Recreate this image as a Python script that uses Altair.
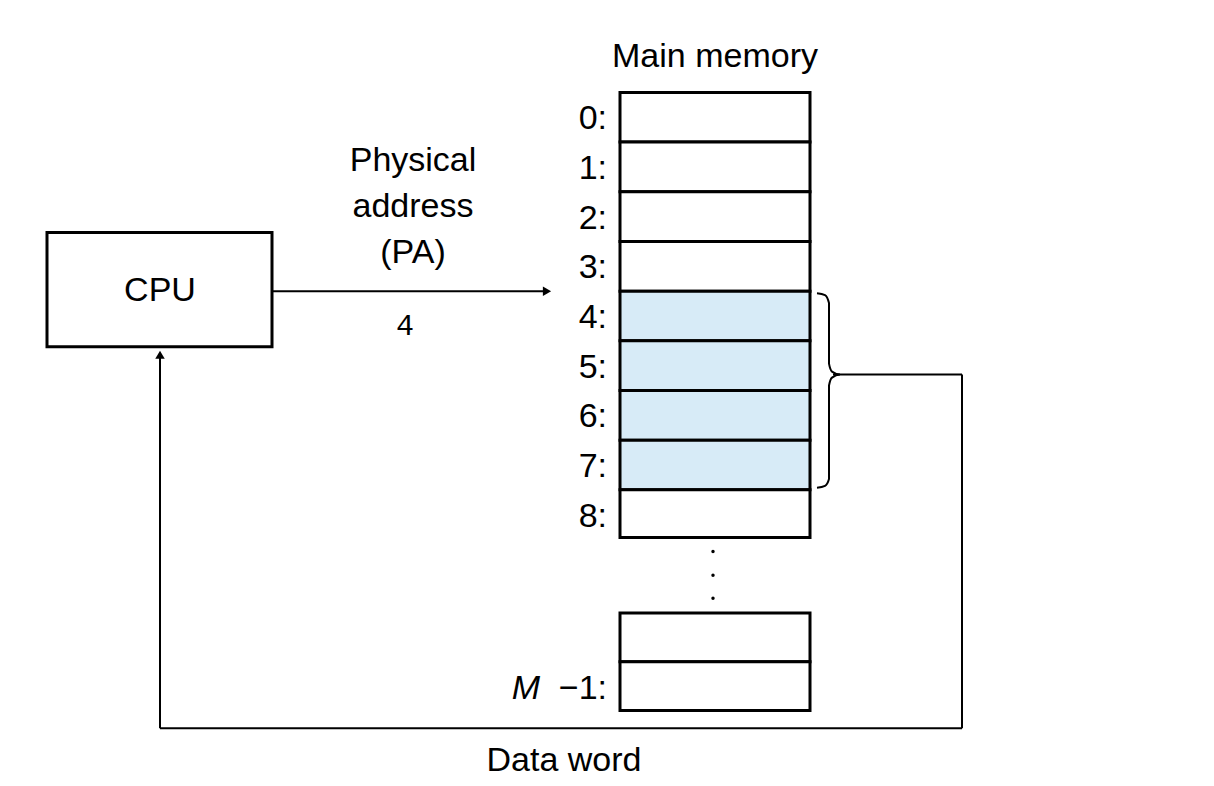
import pandas as pd
import altair as alt

# memory rows shown in the figure
row_labels = ["0:", "1:", "2:", "3:", "4:", "5:", "6:", "7:", "8:"]
highlighted = [False, False, False, False, True, True, True, True, False]
tail_labels = ["", "−1:"]
pa_value = "4"

W, H = 1214, 786
xs = alt.Scale(domain=[8, W - 8])
ys = alt.Scale(domain=[H - 8, 8])
X = lambda f: alt.X(f, type="quantitative", scale=xs, axis=None)
Y = lambda f: alt.Y(f, type="quantitative", scale=ys, axis=None)

# memory cells
cells = []
for i, (lab, hl) in enumerate(zip(row_labels, highlighted)):
    top = 93 + 50 * i
    cells.append(dict(x=620, x2=810, y=top, y2=min(top + 50, 541), lab=lab,
                      fill="#d7ebf7" if hl else "white", ty=top + 27))
for j, lab in enumerate(tail_labels):
    top = 617 + 49 * j
    cells.append(dict(x=620, x2=810, y=top, y2=top + 49, lab=lab, fill="white", ty=top + 27))
cells.append(dict(x=47, x2=272, y=234, y2=349, lab="", fill="white", ty=0))
cdf = pd.DataFrame(cells)

rects = alt.Chart(cdf).mark_rect(stroke="black", strokeWidth=3).encode(
    x=X("x"), x2="x2", y=Y("y"), y2="y2", fill=alt.Fill("fill:N", scale=None))

labels = alt.Chart(cdf[cdf.lab != ""]).mark_text(
    align="right", baseline="middle", fontSize=34, font="Liberation Sans").encode(
    x=alt.value(607 - 8), y=Y("ty"), text="lab:N")

texts = pd.DataFrame([
    dict(x=715, y=57, t="Main memory", a="center"),
    dict(x=413, y=162, t="Physical", a="center"),
    dict(x=413, y=208, t="address", a="center"),
    dict(x=413, y=255, t="(PA)", a="center"),
    dict(x=160, y=293, t="CPU", a="center"),
    dict(x=564, y=766, t="Data word", a="center"),
])
tx = alt.Chart(texts).mark_text(baseline="middle", fontSize=34, font="Liberation Sans").encode(
    x=X("x"), y=Y("y"), text="t:N")
four = alt.Chart(pd.DataFrame([dict(x=405, y=328, t=pa_value)])).mark_text(
    baseline="middle", fontSize=30, font="Liberation Mono").encode(x=X("x"), y=Y("y"), text="t:N")
em = alt.Chart(pd.DataFrame([dict(x=540, y=693, t="M")])).mark_text(
    align="right", baseline="middle", fontSize=34, font="Liberation Sans", fontStyle="italic").encode(
    x=X("x"), y=Y("y"), text="t:N")

dots = alt.Chart(pd.DataFrame(dict(x=[713, 713, 713], y=[555, 579, 602]))).mark_circle(
    color="black", size=12, opacity=1).encode(x=X("x"), y=Y("y"))

segs = pd.DataFrame([
    dict(x=272, y=293, x2=548, y2=293),
    dict(x=833, y=377, x2=962, y2=377),
    dict(x=962, y=377, x2=962, y2=733),
    dict(x=962, y=733, x2=160, y2=733),
    dict(x=160, y=733, x2=160, y2=356),
])
rules = alt.Chart(segs).mark_rule(color="black", strokeWidth=2).encode(
    x=X("x"), y=Y("y"), x2="x2", y2="y2")

heads = pd.DataFrame([dict(x=547, y=293, s="triangle-right"), dict(x=160, y=357, s="triangle-up")])
arrows = alt.Chart(heads).mark_point(filled=True, color="black", size=90, opacity=1).encode(
    x=X("x"), y=Y("y"), shape=alt.Shape("s:N", scale=None))

bx = [817, 825, 829, 829, 832, 840, 832, 829, 829, 825, 817]
by = [295, 297, 305, 366, 374, 377, 380, 388, 482, 489, 491]
brace = alt.Chart(pd.DataFrame(dict(x=bx, y=by, o=range(len(bx))))).mark_line(
    color="black", strokeWidth=2, interpolate="monotone").encode(x=X("x"), y=Y("y"), order="o:O")

chart = alt.layer(rules, brace, rects, labels, tx, four, em, dots, arrows).properties(
    width=W - 16, height=H - 16, padding=0,
    autosize=alt.AutoSizeParams(type="fit", contains="padding"),
).configure_view(strokeWidth=0)

chart.save("out.html", embed_options={"renderer": "svg", "actions": False})
